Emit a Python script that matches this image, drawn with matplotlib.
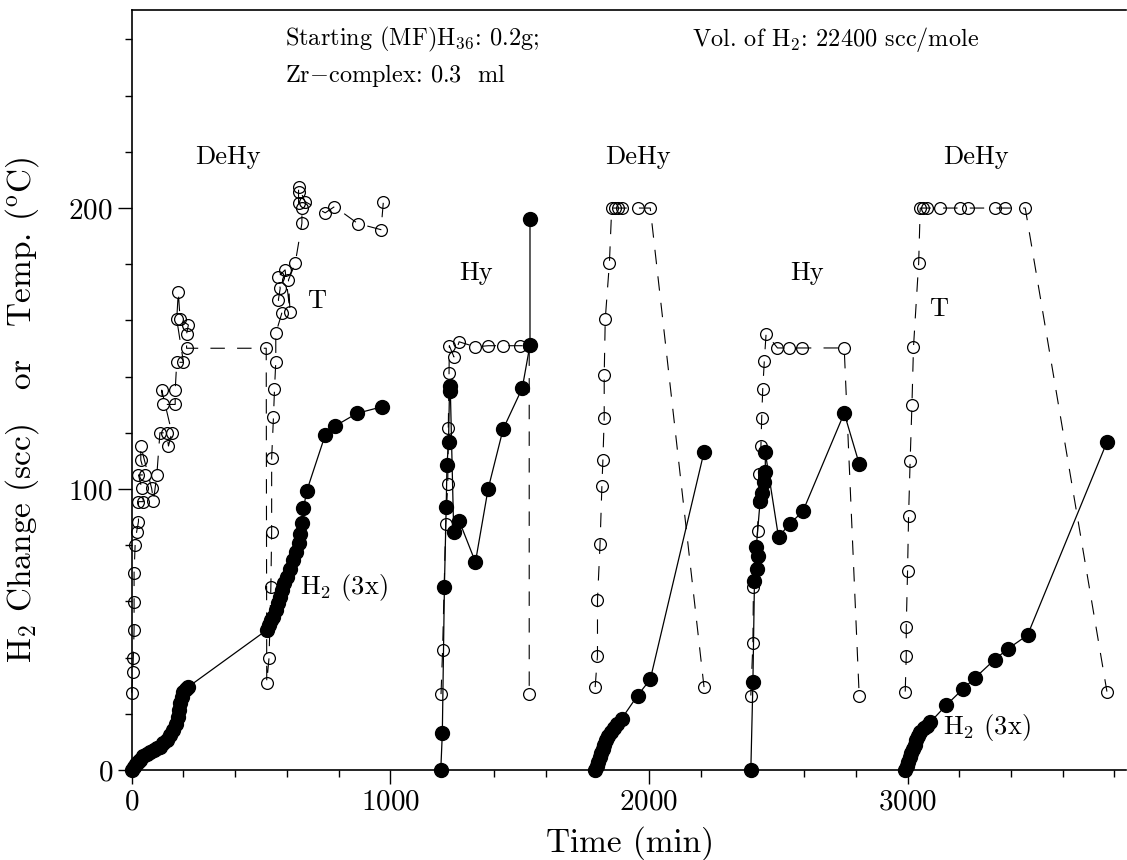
#!/usr/bin/env python
# -*- coding: utf-8 -*-
"""H2 change and temperature vs time for the (MF)H36 / Zr-complex runs"""
import matplotlib
matplotlib.use('Agg')
import matplotlib.pyplot as plt
from matplotlib.ticker import MultipleLocator

plt.rcParams['font.family'] = 'serif'
plt.rcParams['font.serif'] = ['cmr10', 'DejaVu Serif']
plt.rcParams['mathtext.fontset'] = 'cm'
plt.rcParams['axes.formatter.use_mathtext'] = True

# ============================================================================
# Data
# ============================================================================
# run 1: dehydrogenation
t1_temp = [0, 4, 6, 9, 9, 9, 13, 19, 26, 26, 45, 39, 26, 51, 35, 35, 77, 84, 97,
           109, 135, 142, 155, 116, 120, 168, 168, 174, 200, 174, 180, 187, 219,
           212, 212, 520, 522, 531, 538, 541, 541, 548, 552, 557, 557, 580, 567,
           574, 567, 593, 612, 606, 632, 658, 658, 645, 645, 645, 670, 748, 784,
           874, 964, 973]
T1 = [27.5, 35, 40, 49.8, 59.9, 70, 80, 84.8, 88.4, 95.5, 95.5, 100.2, 105, 105,
      110.3, 115.3, 100.2, 95.8, 105, 120, 120, 115.3, 120, 135.2, 130.1, 130.1,
      135.2, 145.1, 145.1, 160.4, 170.2, 160.4, 158.4, 155.2, 150.1, 150.1, 31.1,
      40, 65.2, 84.8, 110.9, 125.5, 135.5, 145.3, 155.4, 162.5, 167.3, 171.4,
      175.6, 178, 163.1, 174.4, 180.3, 194.6, 199.9, 201.7, 205.8, 207.6, 202.3,
      198.3, 200.5, 194.5, 192.3, 202.3]
t1_h2 = [0, 8, 16, 24, 32, 45, 58, 71, 85, 97, 109, 122, 135, 148, 161, 171, 180,
         184, 187, 194, 200, 210, 219, 522, 530, 540, 548, 557, 567, 574, 580,
         590, 600, 612, 625, 635, 645, 652, 658, 664, 677, 748, 786, 870, 969]
H1 = [0, 1, 2, 3, 3.6, 4.8, 5.8, 6.5, 7.2, 7.8, 8.3, 9.5, 10.7, 12.4, 14.2, 16.5,
      19, 21.5, 23.7, 26, 27.9, 28.8, 29.6, 49.8, 51.5, 53.5, 54.6, 57, 59.3,
      61.5, 64, 66.5, 68.8, 71.5, 74.7, 77.5, 80.7, 84, 87.8, 93.1, 99.4, 119.2,
      122.4, 126.9, 129.3]

# run 2: hydrogenation
t2_temp = [1196, 1202, 1214, 1222, 1224, 1227, 1228, 1246, 1266, 1328, 1379, 1435,
           1502, 1537, 1537]
T2 = [27, 42.6, 87.4, 101.8, 121.6, 141.3, 151, 147, 152.4, 150.6, 151, 151,
      151, 151, 27]
t2_h2 = [1195, 1201, 1209, 1216, 1219, 1225, 1229, 1232, 1245, 1267, 1329, 1378,
         1436, 1510, 1540, 1540]
H2 = [0, 13, 65, 93.7, 108.6, 116.6, 136.6, 135, 84.8, 88.5, 74, 100, 121.3,
      135.9, 151.3, 196]

# run 3: dehydrogenation
t3_temp = [1792, 1801, 1801, 1811, 1818, 1822, 1827, 1827, 1831, 1847, 1856, 1869,
           1882, 1895, 1959, 2005, 2213]
T3 = [29.5, 40.7, 60.5, 80.6, 101, 110.5, 125.4, 140.6, 160.4, 180.3, 200, 200,
      200, 200, 200, 200, 29.5]
t3_h2 = [1792, 1798, 1804, 1810, 1816, 1822, 1828, 1834, 1842, 1852, 1863, 1878,
         1895, 1956, 2005, 2213]
H3 = [0, 1.5, 3, 4.5, 6, 7.5, 9, 10.5, 12, 13.5, 14.8, 16.5, 18.3, 26.5, 32.2,
      113.2]

# run 4: hydrogenation
t4_temp = [2394, 2402, 2404, 2420, 2424, 2424, 2433, 2436, 2440, 2446, 2453, 2497,
           2540, 2591, 2755, 2813]
T4 = [26.5, 45.2, 65.2, 85.2, 95.5, 105.3, 115.2, 125.4, 135.5, 145.4, 155.3,
      150.2, 150.2, 150.2, 150.2, 26.5]
t4_h2 = [2394, 2402, 2408, 2417, 2420, 2415, 2430, 2437, 2443, 2450, 2450, 2501,
         2544, 2595, 2755, 2813]
H4 = [0, 31.2, 67.3, 71.6, 76.1, 79.2, 95.8, 98.5, 102.6, 106, 113, 82.9, 87.6,
      92, 127, 109]

# run 5: dehydrogenation
t5_temp = [2991, 2995, 2995, 3000, 3004, 3010, 3017, 3023, 3043, 3049, 3059, 3074,
           3124, 3201, 3232, 3339, 3378, 3455, 3771]
T5 = [27.9, 40.7, 51, 70.7, 90.4, 110, 130, 150.6, 180.5, 200, 200, 200, 200,
      200, 200, 200, 200, 200, 27.9]
t5_h2 = [2991, 2997, 3003, 3009, 3015, 3021, 3027, 3033, 3040, 3050, 3062, 3075,
         3088, 3150, 3214, 3259, 3337, 3388, 3464, 3771]
H5 = [0, 1.5, 3, 4.5, 6, 7.5, 9, 10.5, 12, 13.5, 14.8, 15.8, 17, 23.1, 28.8, 32.6,
      39.3, 43.1, 48, 116.7]

temp_runs = [(t1_temp, T1), (t2_temp, T2), (t3_temp, T3), (t4_temp, T4), (t5_temp, T5)]
h2_runs = [(t1_h2, H1), (t2_h2, H2), (t3_h2, H3), (t4_h2, H4), (t5_h2, H5)]

# ============================================================================
# Figure
# ============================================================================
fig = plt.figure(figsize=(11.27, 8.6), dpi=100)
ax = fig.add_axes([0.1169, 0.1047, 0.8825, 0.8837])

for t, T in temp_runs:
    ax.plot(t, T, color='black', linestyle='--', dashes=(13, 11), linewidth=0.8,
            marker='o', markersize=8.5, markerfacecolor='none',
            markeredgecolor='black', markeredgewidth=0.9, clip_on=False)

for t, H in h2_runs:
    ax.plot(t, H, color='black', linestyle='-', linewidth=0.9,
            marker='o', markersize=10, markerfacecolor='black',
            markeredgecolor='black', clip_on=False, zorder=3)

ax.set_xlim(0, 3846)
ax.set_ylim(0, 270.5)
ax.xaxis.set_major_locator(MultipleLocator(1000))
ax.xaxis.set_minor_locator(MultipleLocator(200))
ax.yaxis.set_major_locator(MultipleLocator(100))
ax.yaxis.set_minor_locator(MultipleLocator(20))
ax.tick_params(which='major', direction='out', length=10, width=1, labelsize=21)
ax.tick_params(which='minor', direction='out', length=5, width=1)
ax.spines['right'].set_visible(False)
for s in ['left', 'bottom', 'top']:
    ax.spines[s].set_linewidth(1.2)

# 注释文字
lab = 19
ax.text(372, 218, 'DeHy', fontsize=lab, ha='center', va='center')
ax.text(1956, 218, 'DeHy', fontsize=lab, ha='center', va='center')
ax.text(3263, 218, 'DeHy', fontsize=lab, ha='center', va='center')
ax.text(1333, 177, 'Hy', fontsize=lab, ha='center', va='center')
ax.text(2613, 177, 'Hy', fontsize=lab, ha='center', va='center')
ax.text(713, 167, 'T', fontsize=lab, ha='center', va='center')
ax.text(3120, 164, 'T', fontsize=lab, ha='center', va='center')
ax.text(651, 65, r'H$_2$ (3x)', fontsize=lab, ha='left', va='center')
ax.text(3139, 15, r'H$_2$ (3x)', fontsize=lab, ha='left', va='center')

ax.text(593, 260, r'Starting (MF)H$_{36}$: 0.2g;', fontsize=17.5, ha='left', va='center')
ax.text(2167, 260, r'Vol. of H$_2$: 22400 scc/mole', fontsize=17.5, ha='left', va='center')
ax.text(593, 247.3, r'Zr$-$complex: 0.3  ml', fontsize=17.5, ha='left', va='center')

fig.text(0.559, 0.02, 'Time (min)', fontsize=24, ha='center', va='center')
fig.text(0.02, 0.523, r'H$_2$ Change (scc)   or   Temp. ($^{\rm o}$C)', fontsize=24,
         ha='center', va='center', rotation=90)

plt.savefig('out.png', dpi=100)
plt.close()
